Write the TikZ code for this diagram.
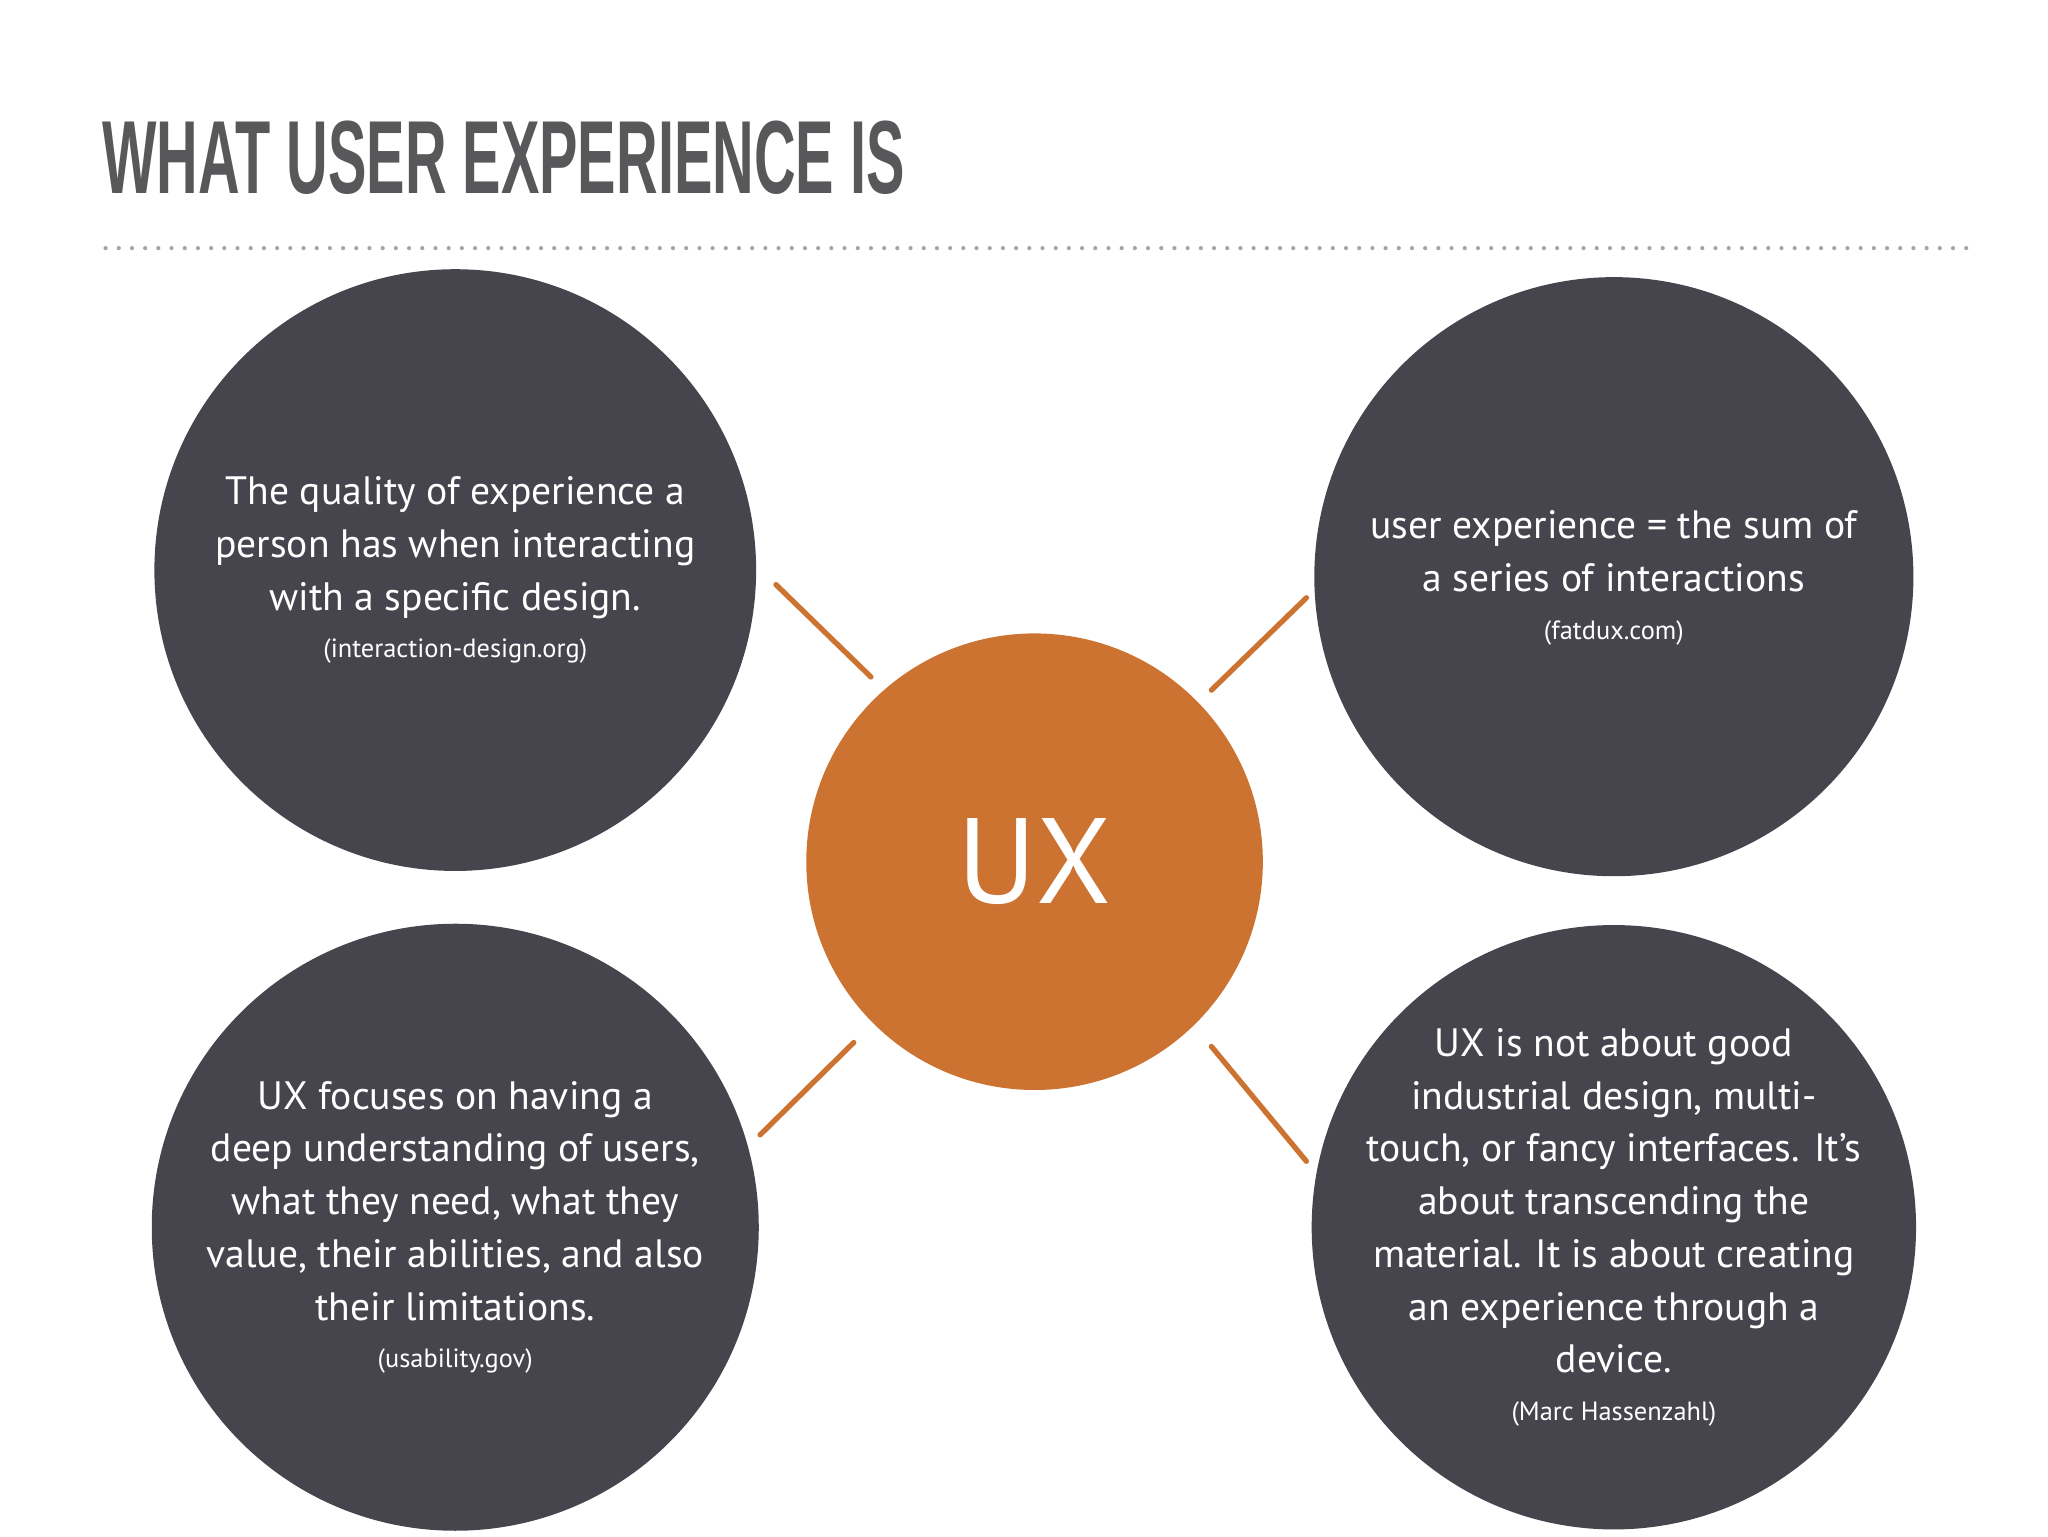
\documentclass[tikz,border=0pt]{standalone}
\usepackage{fontspec}
\setmainfont{PT Sans}
\newfontfamily\titlefont{Liberation Sans}
\newcommand\srcf{\fontsize{10}{12}\selectfont}
\definecolor{dark}{HTML}{46454D}
\definecolor{orng}{HTML}{CC7332}
\definecolor{ttl}{HTML}{58585A}
\begin{document}
\begin{tikzpicture}[x=0.5pt,y=-0.5pt,
  bub/.style={circle,fill=dark,minimum size=#1,inner sep=0pt},
  txt/.style={text=white,align=center,font=\fontsize{15}{20}\selectfont},
  link/.style={draw=orng,line width=2pt,line cap=round}]
\useasboundingbox (0,0) rectangle (1552,1164);
\fill[white] (0,0) rectangle (1552,1164);
\node[anchor=south west,inner sep=0pt,text=ttl] (title) at (77,148)
  {\resizebox{304pt}{27.5pt}{\titlefont\bfseries WHAT USER EXPERIENCE IS}};
\foreach \i in {0,...,141} \fill[gray!70] (80+\i*10,188) circle (1.6);
\node[bub=228pt] (tl) at (345,432) {};
\node[bub=227pt] (tr) at (1223,437) {};
\node[bub=230pt] (bl) at (345,930) {};
\node[bub=229pt] (br) at (1223,930) {};
\node[circle,fill=orng,minimum size=173pt,inner sep=0pt,text=white,
  font=\fontsize{46}{50}\selectfont] (ux) at (784,653) {UX};
\node[txt] (ttl) at (345,432) {The quality of experience a\\person has when interacting\\with a specific design.\\[-2pt]{\srcf (interaction-design.org)}};
\node[txt] (ttr) at (1223,438) {user experience = the sum of\\a series of interactions\\[-2pt]{\srcf (fatdux.com)}};
\node[txt] (tbl) at (345,930) {UX focuses on having a\\deep understanding of users,\\what they need, what they\\value, their abilities, and also\\their limitations.\\[-2pt]{\srcf (usability.gov)}};
\node[txt] (tbr) at (1223,930) {UX is not about good\\industrial design, multi-\\touch, or fancy interfaces. It’s\\about transcending the\\material. It is about creating\\an experience through a\\device.\\[-2pt]{\srcf (Marc Hassenzahl)}};
\coordinate (a1) at (588,443); \coordinate (a2) at (660,513);
\coordinate (b1) at (990,453); \coordinate (b2) at (918,523);
\coordinate (c1) at (647,790); \coordinate (c2) at (576,860);
\coordinate (d1) at (918,793); \coordinate (d2) at (990,880);
\draw[link] (a1) -- (a2);
\draw[link] (b1) -- (b2);
\draw[link] (c1) -- (c2);
\draw[link] (d1) -- (d2);
\end{tikzpicture}
\end{document}
